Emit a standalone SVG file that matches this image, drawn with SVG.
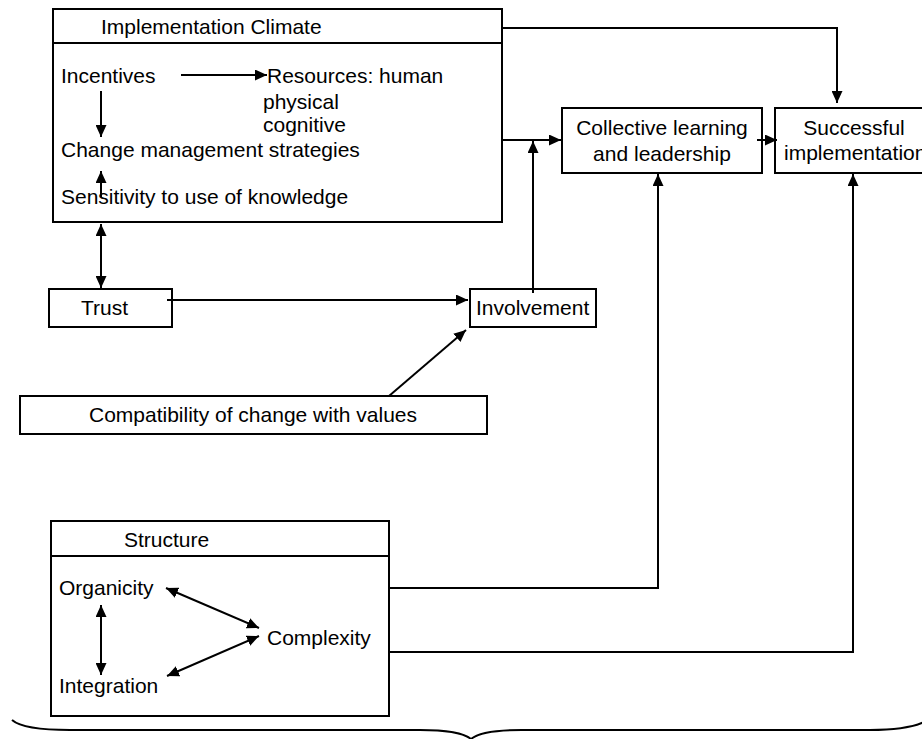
<svg xmlns="http://www.w3.org/2000/svg" width="922" height="739" viewBox="0 0 922 739">
<defs>
<marker id="ah" markerUnits="userSpaceOnUse" markerWidth="13" markerHeight="11" refX="12" refY="5.5" orient="auto-start-reverse">
<path d="M0,0 L12,5.5 L0,11 z" fill="#000"/>
</marker>
<style>
.box{fill:#fff;stroke:#000;stroke-width:2}
.ln{fill:none;stroke:#000;stroke-width:2}
.t{font-family:"Liberation Sans",Arial,sans-serif;font-size:21px;fill:#000}
.c{text-anchor:middle}
.a{marker-end:url(#ah)}
.b{marker-start:url(#ah);marker-end:url(#ah)}
</style>
</defs>
<rect width="922" height="739" fill="#fff"/>
<g id="implementation-climate">
<rect class="box" x="53" y="9" width="449" height="213"/>
<line class="ln" x1="53" y1="43" x2="502" y2="43"/>
<text class="t" x="101" y="34">Implementation Climate</text>
<text class="t" x="61" y="83">Incentives</text>
<text class="t" x="267" y="83">Resources: human</text>
<text class="t" x="263" y="109">physical</text>
<text class="t" x="263" y="132">cognitive</text>
<text class="t" x="61" y="157">Change management strategies</text>
<text class="t" x="61" y="204">Sensitivity to use of knowledge</text>
</g>
<g id="collective-learning">
<rect class="box" x="562" y="108" width="200" height="65"/>
<text class="t c" x="662" y="135">Collective learning</text>
<text class="t c" x="662" y="161">and leadership</text>
</g>
<g id="successful-implementation">
<rect class="box" x="775" y="108" width="160" height="65"/>
<text class="t c" x="854" y="135">Successful</text>
<text class="t" x="784" y="160">implementation</text>
</g>
<g id="trust">
<rect class="box" x="49" y="289" width="123" height="38"/>
<text class="t" x="81" y="315">Trust</text>
</g>
<g id="involvement">
<rect class="box" x="470" y="289" width="126" height="38"/>
<text class="t" x="476" y="315">Involvement</text>
</g>
<g id="compatibility">
<rect class="box" x="20" y="396" width="467" height="38"/>
<text class="t c" x="253" y="422">Compatibility of change with values</text>
</g>
<g id="structure">
<rect class="box" x="51" y="521" width="338" height="195"/>
<line class="ln" x1="51" y1="556" x2="389" y2="556"/>
<text class="t" x="124" y="547">Structure</text>
<text class="t" x="59" y="595">Organicity</text>
<text class="t" x="267" y="645">Complexity</text>
<text class="t" x="59" y="693">Integration</text>
</g>
<g id="connectors">
<line class="ln a" x1="181" y1="75" x2="267" y2="75"/>
<line class="ln a" x1="101" y1="91" x2="101" y2="137"/>
<line class="ln a" x1="101" y1="197" x2="101" y2="171"/>
<line class="ln b" x1="101" y1="224" x2="101" y2="288"/>
<polyline class="ln a" points="502,28 837,28 837,103"/>
<line class="ln a" x1="502" y1="140" x2="561" y2="140"/>
<line class="ln a" x1="533" y1="293" x2="533" y2="141"/>
<line class="ln a" x1="757" y1="140" x2="777" y2="140"/>
<line class="ln a" x1="167" y1="300" x2="468" y2="300"/>
<line class="ln a" x1="389" y1="396" x2="466" y2="330"/>
<polyline class="ln a" points="389,588 658,588 658,174"/>
<polyline class="ln a" points="389,652 853,652 853,174"/>
<line class="ln b" x1="101" y1="605" x2="101" y2="675"/>
<line class="ln b" x1="166" y1="588" x2="259" y2="628"/>
<line class="ln b" x1="167" y1="676" x2="259" y2="636"/>
<path class="ln" d="M12,720 C20,727 40,730 70,730 L420,730 C450,730 465,734 471,739 C477,734 492,730 522,730 L870,730 C900,730 915,727 926,721"/>
</g>
</svg>
